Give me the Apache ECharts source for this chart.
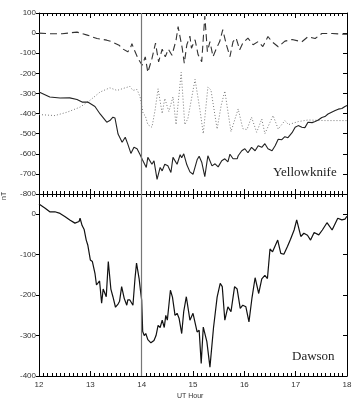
<!DOCTYPE html>
<html lang="en">
<head>
<meta charset="UTF-8">
<title>Yellowknife / Dawson</title>
<script src="https://cdn.jsdelivr.net/npm/echarts@6/dist/echarts.min.js"></script>
<style>html,body{margin:0;padding:0;background:#fff;}</style>
</head>
<body>
<div id="main" style="width:355px;height:404px;"></div>
<script type="text/javascript">
// Yellowknife, solid trace (UT hour / nT)
var ykSolidT = [12.00,12.21,12.41,12.60,12.74,12.84,12.95,13.09,13.19,13.32,13.38,13.44,13.48,13.54,13.62,13.68,13.73,13.79,13.85,13.91,13.97,14.01,14.09,14.12,14.20,14.24,14.30,14.36,14.40,14.45,14.51,14.57,14.61,14.69,14.75,14.78,14.82,14.88,14.94,15.00,15.08,15.12,15.17,15.23,15.29,15.37,15.43,15.49,15.56,15.62,15.68,15.72,15.78,15.86,15.88,15.95,16.01,16.07,16.14,16.21,16.27,16.34,16.40,16.46,16.54,16.60,16.66,16.73,16.79,16.85,16.93,16.99,17.05,17.12,17.18,17.24,17.32,17.38,17.44,17.51,17.57,17.63,17.71,17.77,17.83,17.90,17.96,18.00];
var ykSolid = [-293,-318,-323,-322,-330,-343,-343,-365,-402,-443,-435,-418,-422,-502,-543,-518,-552,-598,-568,-575,-605,-627,-668,-618,-652,-635,-727,-668,-685,-652,-660,-693,-618,-652,-605,-620,-600,-655,-690,-702,-630,-612,-642,-714,-610,-660,-650,-665,-635,-625,-640,-602,-625,-625,-610,-585,-575,-595,-568,-585,-560,-568,-550,-575,-585,-560,-528,-530,-515,-520,-495,-468,-460,-468,-470,-443,-445,-440,-432,-420,-415,-402,-392,-385,-378,-375,-365,-360];

// Yellowknife, dashed trace
var ykDashT = [12.00,12.21,12.45,12.74,12.94,13.13,13.32,13.42,13.56,13.62,13.73,13.78,13.81,13.85,13.93,14.01,14.07,14.12,14.20,14.27,14.33,14.40,14.46,14.52,14.59,14.67,14.71,14.79,14.83,14.88,14.94,14.97,15.04,15.10,15.17,15.23,15.28,15.33,15.39,15.45,15.52,15.58,15.65,15.72,15.78,15.84,15.91,15.97,16.07,16.17,16.27,16.36,16.46,16.54,16.66,16.79,16.93,17.12,17.24,17.38,17.51,17.71,17.90,18.00];
var ykDash = [0,-3,-3,5,-10,-27,-35,-43,-60,-77,-93,-75,-52,-80,-127,-160,-118,-195,-127,-50,-143,-80,-118,-80,-110,-35,32,-75,-150,-58,-15,-75,-33,-108,-142,85,-92,-42,-117,-80,-42,17,-58,-117,-42,-25,-83,-50,-25,-58,-42,-67,-17,-43,-68,-40,-32,-43,-18,-27,-2,-2,-5,-5];

// Yellowknife, dotted trace
var ykDotT = [12.00,12.31,12.55,12.80,12.99,13.19,13.38,13.52,13.68,13.77,13.83,13.91,13.97,14.03,14.07,14.12,14.20,14.26,14.32,14.40,14.45,14.53,14.61,14.67,14.77,14.84,14.90,15.04,15.14,15.20,15.29,15.35,15.47,15.55,15.62,15.74,15.88,15.97,16.05,16.14,16.24,16.34,16.40,16.56,16.66,16.79,16.86,17.05,17.24,17.57,18.00];
var ykDot = [-405,-410,-393,-368,-335,-293,-272,-285,-272,-265,-285,-280,-318,-402,-410,-455,-468,-385,-277,-400,-325,-390,-317,-455,-195,-455,-425,-230,-390,-500,-268,-283,-477,-358,-288,-490,-377,-475,-480,-418,-493,-427,-500,-410,-477,-435,-455,-440,-432,-435,-435];

// Dawson
var dawT = [12.00,12.12,12.21,12.31,12.41,12.51,12.60,12.70,12.78,12.80,12.84,12.88,12.92,12.95,13.00,13.04,13.09,13.12,13.15,13.18,13.22,13.25,13.28,13.31,13.35,13.40,13.44,13.49,13.54,13.57,13.61,13.66,13.71,13.73,13.77,13.83,13.87,13.90,13.95,13.98,14.00,14.02,14.05,14.08,14.12,14.18,14.24,14.28,14.32,14.36,14.40,14.44,14.47,14.50,14.56,14.60,14.65,14.69,14.73,14.78,14.82,14.87,14.94,15.00,15.08,15.12,15.16,15.20,15.27,15.33,15.40,15.47,15.53,15.57,15.62,15.68,15.74,15.81,15.86,15.92,15.97,16.03,16.09,16.15,16.21,16.28,16.34,16.40,16.45,16.50,16.55,16.65,16.71,16.77,16.84,16.90,16.97,17.02,17.10,17.16,17.23,17.29,17.36,17.45,17.52,17.61,17.71,17.82,17.90,17.96,18.00];
var daw = [25,15,6,6,2,-6,-14,-22,-18,-10,-28,-38,-64,-76,-113,-117,-146,-175,-177,-165,-220,-185,-182,-204,-117,-185,-204,-230,-222,-215,-179,-208,-225,-212,-212,-225,-159,-121,-159,-192,-212,-290,-300,-295,-310,-318,-312,-300,-275,-280,-262,-280,-250,-262,-188,-205,-250,-245,-258,-295,-240,-204,-262,-245,-291,-287,-369,-279,-315,-378,-280,-205,-171,-179,-262,-229,-241,-179,-185,-233,-225,-229,-266,-206,-157,-196,-160,-151,-159,-86,-93,-64,-97,-99,-80,-62,-39,-14,-55,-47,-52,-64,-45,-51,-39,-21,-39,-10,-14,-12,-5];

var hourTicks = [12, 13, 14, 15, 16, 17, 18];
var eventHour = 14;

function pairs(t, v) {
    var out = [];
    for (var i = 0; i < Math.min(t.length, v.length); i++) out.push([t[i], v[i]]);
    return out;
}

var myChart = echarts.init(document.getElementById('main'));

var lblFont = {color: '#333', fontSize: 8, fontFamily: 'Liberation Sans, Arial, sans-serif'};

function xAx(grid, pos, showLabels) {
    return {
        type: 'value', gridIndex: grid, position: pos,
        min: hourTicks[0], max: hourTicks[hourTicks.length - 1], interval: 1,
        axisLine: {show: true, onZero: false, lineStyle: {color: '#000', width: 1}},
        axisTick: {show: true, inside: true, length: 5, lineStyle: {color: '#000'}},
        minorTick: {show: true, splitNumber: 12, length: 3, lineStyle: {color: '#000'}},
        axisLabel: Object.assign({show: showLabels, margin: 5}, lblFont),
        splitLine: {show: false}
    };
}

function yAx(grid, pos, min, max, showLabels) {
    return {
        type: 'value', gridIndex: grid, position: pos, min: min, max: max, interval: 100,
        axisLine: {show: true, onZero: false, lineStyle: {color: '#000', width: 1}},
        axisTick: {show: true, inside: !showLabels, length: showLabels ? 3 : 4, lineStyle: {color: '#000'}},
        axisLabel: Object.assign({show: showLabels, margin: 3, showMaxLabel: max % 100 === 0, showMinLabel: true}, lblFont),
        splitLine: {show: false}
    };
}

var vline = {
    silent: true, symbol: 'none', animation: false,
    label: {show: false},
    lineStyle: {color: '#777', width: 1.2, type: 'solid'},
    data: [{xAxis: eventHour}]
};

var option = {
    animation: false,
    grid: [
        {left: 39, right: 8, top: 13, height: 181},
        {left: 39, right: 8, top: 194, height: 182}
    ],
    xAxis: [xAx(0, 'bottom', false), xAx(0, 'top', false), xAx(1, 'bottom', true), xAx(1, 'top', false)],
    yAxis: [yAx(0, 'left', -800, 100, true), yAx(0, 'right', -800, 100, false),
            yAx(1, 'left', -400, 50, true), yAx(1, 'right', -400, 50, false)],
    series: [
        {
            name: 'Yellowknife dashed', type: 'line', xAxisIndex: 0, yAxisIndex: 0,
            data: pairs(ykDashT, ykDash), symbol: 'none',
            lineStyle: {color: '#333', width: 1.1, type: [7, 4]}
        },
        {
            name: 'Yellowknife dotted', type: 'line', xAxisIndex: 0, yAxisIndex: 0,
            data: pairs(ykDotT, ykDot), symbol: 'none',
            lineStyle: {color: '#777', width: 1, type: [1, 2]}
        },
        {
            name: 'Yellowknife solid', type: 'line', xAxisIndex: 0, yAxisIndex: 0,
            data: pairs(ykSolidT, ykSolid), symbol: 'none',
            lineStyle: {color: '#222', width: 1.1},
            markLine: vline
        },
        {
            name: 'Dawson', type: 'line', xAxisIndex: 2, yAxisIndex: 2,
            data: pairs(dawT, daw), symbol: 'none',
            lineStyle: {color: '#111', width: 1.2},
            markLine: vline
        }
    ],
    graphic: [
        {type: 'text', left: 273, top: 166, style: {text: 'Yellowknife', font: '13px "Liberation Serif", "DejaVu Serif", serif', fill: '#222'}},
        {type: 'text', left: 292, top: 350, style: {text: 'Dawson', font: '13px "Liberation Serif", "DejaVu Serif", serif', fill: '#222'}},
        {type: 'text', x: 1, y: 200, rotation: Math.PI / 2, style: {text: 'nT', font: '7px "Liberation Sans", Arial, sans-serif', fill: '#333'}},
        {type: 'text', left: 177, top: 393, style: {text: 'UT Hour', font: '7px "Liberation Sans", Arial, sans-serif', fill: '#333'}}
    ]
};

myChart.setOption(option);
</script>
</body>
</html>
